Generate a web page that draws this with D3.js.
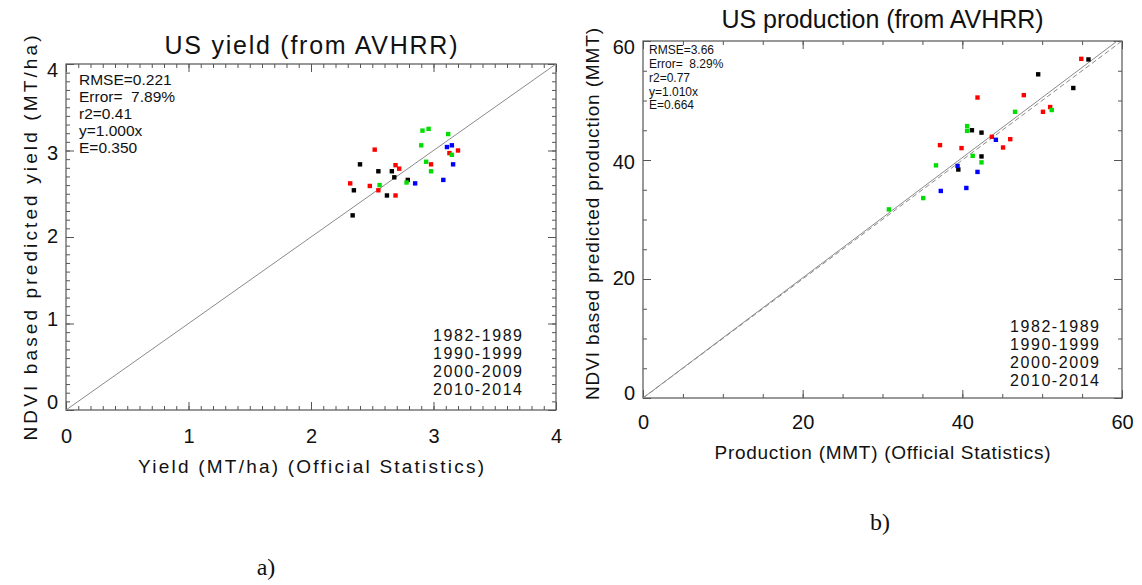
<!DOCTYPE html>
<html>
<head>
<meta charset="utf-8">
<script src="https://cdn.jsdelivr.net/npm/d3@7"></script>
<style>
  body { margin: 0; background: #fff; }
  svg { display: block; }
  text { font-family: "Liberation Sans", Arial, sans-serif; fill: #111; }
</style>
</head>
<body>
<svg id="fig" width="1142" height="585"></svg>
<script>
// ---- data -------------------------------------------------------------
const periods = ["1982-1989", "1990-1999", "2000-2009", "2010-2014"];

// Yield (MT/ha): official statistics vs NDVI-based prediction
const yieldOfficial8289 = [2.40, 2.55, 2.66, 2.68, 2.79, 2.35, 2.62, 2.34];
const yieldPredicted8289 = [2.84, 2.76, 2.76, 2.69, 2.66, 2.54, 2.48, 2.25];
const yieldOfficial9099 = [2.52, 2.69, 2.72, 2.32, 2.48, 2.55, 2.69, 2.98, 3.13, 3.20];
const yieldPredicted9099 = [3.01, 2.83, 2.79, 2.62, 2.59, 2.54, 2.48, 2.84, 2.97, 3.00];
const yieldOfficial0009 = [2.91, 2.96, 3.12, 2.90, 2.94, 2.98, 2.56, 2.78, 3.15];
const yieldPredicted0009 = [3.23, 3.25, 3.19, 3.06, 2.87, 2.76, 2.60, 2.63, 2.95];
const yieldOfficial1014 = [3.11, 3.15, 3.16, 2.85, 3.08];
const yieldPredicted1014 = [3.04, 3.06, 2.84, 2.62, 2.66];

// Production (MMT): official statistics vs NDVI-based prediction
const prodOfficial8289 = [55.8, 49.5, 53.9, 41.2, 42.4, 42.4, 39.5];
const prodPredicted8289 = [56.9, 54.4, 52.1, 45.0, 44.6, 40.6, 38.4];
const prodOfficial9099 = [54.9, 47.7, 41.9, 50.1, 51.0, 43.7, 46.0, 45.1, 37.2, 39.9];
const prodPredicted9099 = [57.0, 50.9, 50.5, 48.1, 48.9, 43.9, 43.5, 42.1, 42.5, 42.0];
const prodOfficial0009 = [46.6, 51.2, 40.6, 40.6, 41.3, 42.4, 36.7, 35.1, 30.8];
const prodPredicted0009 = [48.1, 48.4, 45.7, 44.9, 40.7, 39.6, 39.1, 33.6, 31.7];
const prodOfficial1014 = [44.2, 39.4, 41.9, 37.3, 40.5];
const prodPredicted1014 = [43.4, 39.0, 38.0, 34.8, 35.3];

const yieldTicks = [0, 1, 2, 3, 4];
const productionTicks = [0, 20, 40, 60];

const yieldStats = ["RMSE=0.221", "Error=  7.89%", "r2=0.41", "y=1.000x", "E=0.350"];
const productionStats = ["RMSE=3.66", "Error=  8.29%", "r2=0.77", "y=1.010x", "E=0.664"];

const yieldFitSlope = 1.000;
const productionFitSlope = 1.010;
const oneToOneSlope = 1.0;

// ---- styling ----------------------------------------------------------
const pointColors = ["#000000", "#ff0000", "#00dd00", "#0000ff"];
const legendColors = ["#111111", "#ff2020", "#22dd22", "#2020ff"];
const frameColor = "#555";
const lineColor = "#8a8a8a";

const svg = d3.select("#fig");

function zipSeries(offs, preds) {
  return offs.map((o, i) => ({ x: o, y: preds[i] }));
}

function drawPanel(cfg) {
  const g = svg.append("g");
  const x = d3.scaleLinear().domain(cfg.domain).range([cfg.left, cfg.right]);
  const y = d3.scaleLinear().domain(cfg.domain).range([cfg.bottom, cfg.top]);
  const yLabel = d3.scaleLinear().domain(cfg.domain).range(cfg.yLabelRange);

  const minor = d3.range(cfg.domain[0], cfg.domain[1] + cfg.minorStep / 2, cfg.minorStep);

  // inward ticks on all four sides
  const sides = [
    { ax: d3.axisBottom(x), tr: `translate(0,${cfg.bottom})` },
    { ax: d3.axisTop(x), tr: `translate(0,${cfg.top})` },
    { ax: d3.axisLeft(y), tr: `translate(${cfg.left},0)` },
    { ax: d3.axisRight(y), tr: `translate(${cfg.right},0)` }
  ];
  sides.forEach(s => {
    [[minor, -4], [cfg.ticks, -8]].forEach(([vals, len]) => {
      const a = g.append("g").attr("transform", s.tr)
        .call(s.ax.tickValues(vals).tickSizeInner(len).tickSizeOuter(0).tickFormat(""));
      a.select(".domain").remove();
      a.selectAll("line").attr("stroke", frameColor).attr("stroke-width", 1);
    });
  });

  // frame
  g.append("rect")
    .attr("x", cfg.left).attr("y", cfg.top)
    .attr("width", cfg.right - cfg.left).attr("height", cfg.bottom - cfg.top)
    .attr("fill", "none").attr("stroke", frameColor).attr("stroke-width", 1.2);

  // tick labels
  const xl = g.append("g").attr("transform", `translate(0,${cfg.xLabelY})`)
    .call(d3.axisBottom(x).tickValues(cfg.ticks).tickSize(0).tickPadding(0).tickFormat(d3.format("d")));
  xl.select(".domain").remove();
  xl.selectAll("text").attr("y", 0).attr("dy", "0.35em")
    .style("font-size", "20px").attr("fill", "#111");

  const yl = g.append("g").attr("transform", `translate(${cfg.left - 8},0)`)
    .call(d3.axisLeft(yLabel).tickValues(cfg.ticks).tickSize(0).tickPadding(0).tickFormat(d3.format("d")));
  yl.select(".domain").remove();
  yl.selectAll("text").style("font-size", "20px").attr("fill", "#111");

  // reference lines, clipped to the plot box
  const clipId = "clip-" + cfg.id;
  svg.append("clipPath").attr("id", clipId).append("rect")
    .attr("x", cfg.left).attr("y", cfg.top)
    .attr("width", cfg.right - cfg.left).attr("height", cfg.bottom - cfg.top);
  const lineGen = d3.line().x(d => x(d[0])).y(d => y(d[1]));
  cfg.lines.forEach(l => {
    const xmax = cfg.domain[1];
    g.append("path")
      .attr("clip-path", `url(#${clipId})`)
      .attr("d", lineGen([[0, 0], [xmax, l.slope * xmax]]))
      .attr("fill", "none").attr("stroke", lineColor).attr("stroke-width", 1)
      .attr("stroke-dasharray", l.dash || null);
  });

  // points
  cfg.series.forEach((s, i) => {
    g.append("g").selectAll("rect").data(s).join("rect")
      .attr("x", d => x(d.x) - 2.2).attr("y", d => y(d.y) - 2.2)
      .attr("width", 4.4).attr("height", 4.4)
      .attr("fill", pointColors[i]);
  });

  // statistics block
  g.append("g").selectAll("text").data(cfg.stats).join("text")
    .attr("x", cfg.statsX).attr("y", (d, i) => cfg.statsY + i * cfg.statsDy)
    .attr("dy", "0.35em").attr("xml:space", "preserve")
    .style("white-space", "pre")
    .style("font-size", cfg.statsFont + "px")
    .text(d => d);

  // legend
  g.append("g").selectAll("text").data(periods).join("text")
    .attr("x", cfg.legendX).attr("y", (d, i) => cfg.legendY + i * 18)
    .attr("dy", "0.35em").attr("textLength", 89).attr("lengthAdjust", "spacing")
    .style("font-size", "16px").attr("fill", (d, i) => legendColors[i])
    .text(d => d);

  // titles
  g.append("text").attr("x", (cfg.left + cfg.right) / 2).attr("y", cfg.titleY)
    .attr("text-anchor", "middle").attr("textLength", cfg.titleLen).attr("lengthAdjust", "spacing")
    .style("font-size", "25px").text(cfg.title);
  g.append("text").attr("x", (cfg.left + cfg.right) / 2).attr("y", cfg.xTitleY)
    .attr("dy", "0.35em").attr("text-anchor", "middle")
    .attr("textLength", cfg.xTitleLen).attr("lengthAdjust", "spacing")
    .style("font-size", "19px").text(cfg.xTitle);
  g.append("text")
    .attr("transform", `translate(${cfg.yTitleX},${cfg.yTitleCenter}) rotate(-90)`)
    .attr("dy", "0.35em").attr("text-anchor", "middle")
    .attr("textLength", cfg.yTitleLen).attr("lengthAdjust", "spacing")
    .style("font-size", "19px").text(cfg.yTitle);

  // panel tag
  g.append("text").attr("x", cfg.tagX).attr("y", cfg.tagY).attr("dy", "0.35em")
    .attr("text-anchor", "middle")
    .style("font-family", "'Liberation Serif', 'DejaVu Serif', serif")
    .style("font-size", "24px").text(cfg.tag);
}

drawPanel({
  id: "yield",
  left: 66, right: 556, top: 64, bottom: 410,
  domain: [0, 4], ticks: yieldTicks, minorStep: 0.1,
  yLabelRange: [402, 70], xLabelY: 436,
  lines: [{ slope: yieldFitSlope }],
  series: [
    zipSeries(yieldOfficial8289, yieldPredicted8289),
    zipSeries(yieldOfficial9099, yieldPredicted9099),
    zipSeries(yieldOfficial0009, yieldPredicted0009),
    zipSeries(yieldOfficial1014, yieldPredicted1014)
  ],
  stats: yieldStats, statsX: 79, statsY: 80, statsDy: 17, statsFont: 15.5,
  legendX: 433, legendY: 335,
  title: "US yield (from AVHRR)", titleY: 54, titleLen: 293,
  xTitle: "Yield (MT/ha) (Official Statistics)", xTitleY: 466, xTitleLen: 346,
  yTitle: "NDVI based predicted yield (MT/ha)", yTitleX: 30, yTitleCenter: 238, yTitleLen: 405,
  tag: "a)", tagX: 266, tagY: 567
});

drawPanel({
  id: "production",
  left: 643, right: 1122, top: 41, bottom: 398,
  domain: [0, 60], ticks: productionTicks, minorStep: 5,
  yLabelRange: [393, 47], xLabelY: 422,
  lines: [{ slope: productionFitSlope }, { slope: oneToOneSlope, dash: "5,3" }],
  series: [
    zipSeries(prodOfficial8289, prodPredicted8289),
    zipSeries(prodOfficial9099, prodPredicted9099),
    zipSeries(prodOfficial0009, prodPredicted0009),
    zipSeries(prodOfficial1014, prodPredicted1014)
  ],
  stats: productionStats, statsX: 649, statsY: 50, statsDy: 13.8, statsFont: 12,
  legendX: 1010, legendY: 326,
  title: "US production (from AVHRR)", titleY: 28, titleLen: 322,
  xTitle: "Production (MMT) (Official Statistics)", xTitleY: 452, xTitleLen: 336,
  yTitle: "NDVI based predicted production (MMT)", yTitleX: 592, yTitleCenter: 214, yTitleLen: 372,
  tag: "b)", tagX: 880, tagY: 522
});
</script>
</body>
</html>
